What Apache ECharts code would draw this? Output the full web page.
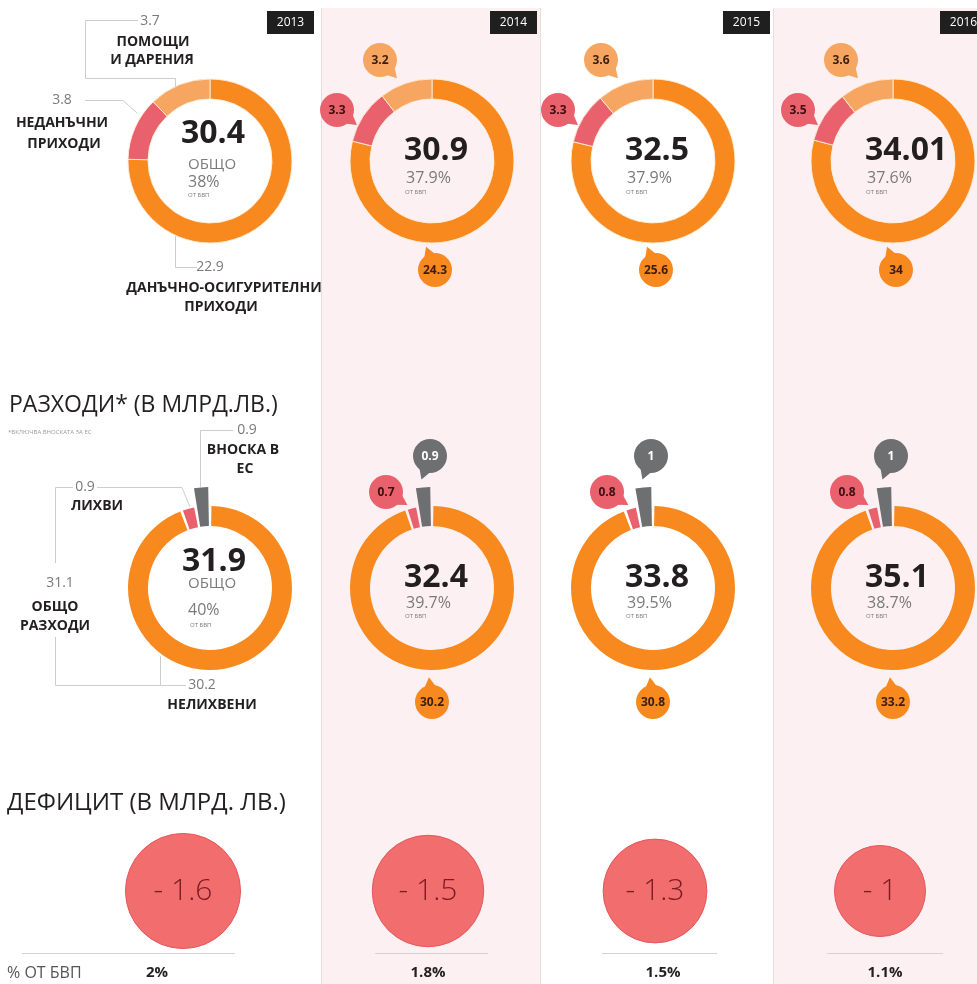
<!DOCTYPE html>
<html>
<head>
<meta charset="utf-8">
<script src="https://cdn.jsdelivr.net/npm/echarts@6/dist/echarts.min.js"></script>
<style>
  html, body { margin: 0; padding: 0; background: #fff; }
  #chart { width: 977px; height: 984px; }
</style>
</head>
<body>
<div id="chart"></div>
<script>
// данни (млрд. лв.)
const years = ['2013', '2014', '2015', '2016'];

// приходи
const revTotal = ['30.4', '30.9', '32.5', '34.01'];
const revGdp = ['38%', '37.9%', '37.9%', '37.6%'];
const revTax = ['22.9', '24.3', '25.6', '34'];      // надписите, както са отпечатани
const revTaxArc = [22.9, 24.3, 25.6, 26.9];         // дъгата за 2016 е ~26.9 (надписът "34" е печатна грешка)
const revNonTax = [3.8, 3.3, 3.3, 3.5];
const revAid = [3.7, 3.2, 3.6, 3.6];

// разходи
const expTotal = ['31.9', '32.4', '33.8', '35.1'];
const expGdp = ['40%', '39.7%', '39.5%', '38.7%'];
const expNonInt = [30.2, 30.2, 30.8, 33.2];
const expInterest = [0.9, 0.7, 0.8, 0.8];
const expEu = [0.9, 0.9, 1, 1];
const expAll = [31.1];  // общо разходи без вноската (2013)

// дефицит
const deficit = [1.6, 1.5, 1.3, 1];
const deficitGdp = ['2%', '1.8%', '1.5%', '1.1%'];

// оформление
const FONT = '"Open Sans", "Noto Sans", sans-serif';
const C = {
    orange: '#f7891f',
    light: '#f6a661',
    red: '#e9616c',
    grey: '#6e6f71',
    def: '#f26d6e',
    pink: '#fcf0f3',
    line: '#cdcdcd',
    ink: '#231f20',
    muted: '#7a7a7a'
};
const ringCx = [210, 432, 653, 893];
const revCy = 161;
const expCy = 588;
const defCx = [183, 428, 655, 880];
const defCy = 891;

function txt(x, y, text, font, fill, align) {
    align = align || 'center';
    return {
        type: 'text', x: x, y: y, z: 20,
        style: {
            text: text, font: font, fill: fill,
            align: align, verticalAlign: 'middle',
            textAlign: align, textVerticalAlign: 'middle'
        }
    };
}
function line(points, color) {
    return {
        type: 'polyline', z: 5,
        shape: { points: points },
        style: { stroke: color || C.line, lineWidth: 1, fill: null }
    };
}
// балонче с "опашка" към сегмента
function bubble(cx, cy, text, fill, textFill, tailDeg) {
    let r = 17;
    let a = tailDeg * Math.PI / 180;
    let s = 30 * Math.PI / 180;
    let tip = [cx + Math.cos(a) * (r + 8), cy + Math.sin(a) * (r + 8)];
    let p1 = [cx + Math.cos(a - s) * r * 0.85, cy + Math.sin(a - s) * r * 0.85];
    let p2 = [cx + Math.cos(a + s) * r * 0.85, cy + Math.sin(a + s) * r * 0.85];
    return [
        { type: 'polygon', z: 15, shape: { points: [p1, tip, p2] }, style: { fill: fill } },
        { type: 'circle', z: 15, shape: { cx: cx, cy: cy, r: r }, style: { fill: fill } },
        txt(cx, cy + 1, text, 'bold 12px ' + FONT, textFill)
    ];
}

let graphics = [];

// розови колони и разделители
graphics.push({ type: 'rect', z: 0, shape: { x: 321, y: 8, width: 219, height: 976 }, style: { fill: C.pink } });
graphics.push({ type: 'rect', z: 0, shape: { x: 773, y: 8, width: 204, height: 976 }, style: { fill: C.pink } });
[321.5, 540.5, 773.5].forEach(x => {
    graphics.push(line([[x, 8], [x, 984]], '#e6dde0'));
});

// години
const tagX = [267, 490, 723, 940];
years.forEach((y, i) => {
    graphics.push({ type: 'rect', z: 10, shape: { x: tagX[i], y: 11, width: 47, height: 23 }, style: { fill: '#1f1f1f' } });
    graphics.push(txt(tagX[i] + 23.5, 23, y, '12px ' + FONT, '#fff'));
});

let series = [];

// ---------- ПРИХОДИ ----------
years.forEach((y, i) => {
    series.push({
        type: 'pie',
        silent: true,
        center: [ringCx[i], revCy],
        radius: [62, 82],
        startAngle: 90,
        clockwise: true,
        label: { show: false },
        labelLine: { show: false },
        itemStyle: { borderColor: 'rgba(255,236,215,0.9)', borderWidth: 1 },
        data: [
            { name: 'данъчно-осигурителни', value: revTaxArc[i], itemStyle: { color: C.orange } },
            { name: 'неданъчни', value: revNonTax[i], itemStyle: { color: C.red } },
            { name: 'помощи', value: revAid[i], itemStyle: { color: C.light } }
        ]
    });
});

// 2013 - централен текст и надписи с линии
graphics.push(txt(181, 134, revTotal[0], 'bold 32px ' + FONT, C.ink, 'left'));
graphics.push(txt(188, 165, 'ОБЩО', '15px ' + FONT, C.muted, 'left'));
graphics.push(txt(188, 182, revGdp[0], '16px ' + FONT, C.muted, 'left'));
graphics.push(txt(188, 195, 'ОТ БВП', '6px ' + FONT, C.muted, 'left'));

graphics.push(line([[138, 20.5], [85.5, 20.5], [85.5, 78.5], [175.5, 78.5], [175.5, 88]]));
graphics.push(txt(150, 21, String(revAid[0]), '14px ' + FONT, C.muted));
graphics.push(txt(153, 42, 'ПОМОЩИ', 'bold 14px ' + FONT, C.ink));
graphics.push(txt(152, 60, 'И ДАРЕНИЯ', 'bold 14px ' + FONT, C.ink));

graphics.push(line([[85, 100.5], [123, 100.5], [137, 113]]));
graphics.push(txt(62, 100, String(revNonTax[0]), '14px ' + FONT, C.muted));
graphics.push(txt(62, 123, 'НЕДАНЪЧНИ', 'bold 14px ' + FONT, C.ink));
graphics.push(txt(64, 144, 'ПРИХОДИ', 'bold 14px ' + FONT, C.ink));

graphics.push(line([[175.5, 236], [175.5, 267.5], [197, 267.5]]));
graphics.push(txt(210, 267, revTax[0], '14px ' + FONT, C.muted));
graphics.push(txt(224, 288, 'ДАНЪЧНО-ОСИГУРИТЕЛНИ', 'bold 14px ' + FONT, C.ink));
graphics.push(txt(221, 307, 'ПРИХОДИ', 'bold 14px ' + FONT, C.ink));

// 2014-2016
for (let i = 1; i < 4; i++) {
    let cx = ringCx[i];
    graphics.push(txt(cx - 28, revCy - 10, revTotal[i], 'bold 32px ' + FONT, C.ink, 'left'));
    graphics.push(txt(cx - 26, revCy + 17, revGdp[i], '16px ' + FONT, C.muted, 'left'));
    graphics.push(txt(cx - 27, revCy + 31, 'ОТ БВП', '6px ' + FONT, C.muted, 'left'));
    graphics.push(...bubble(cx - 52, revCy - 101, String(revAid[i]), C.light, '#3b1d0e', 47));
    graphics.push(...bubble(cx - 95, revCy - 51, String(revNonTax[i]), C.red, '#3b1010', 37));
    graphics.push(...bubble(cx + 3, revCy + 109, revTax[i], C.orange, '#3b1d0e', -111));
}

// ---------- РАЗХОДИ ----------
graphics.push(txt(9, 405, 'РАЗХОДИ* (В МЛРД.ЛВ.)', '500 23px ' + FONT, C.ink, 'left'));
graphics.push(txt(8, 432, '*ВКЛЮЧВА ВНОСКАТА ЗА ЕС', '6px ' + FONT, '#9a9a9a', 'left'));

years.forEach((y, i) => {
    let common = {
        type: 'pie',
        silent: true,
        center: [ringCx[i], expCy],
        startAngle: 90,
        clockwise: true,
        padAngle: 2,
        label: { show: false },
        labelLine: { show: false }
    };
    // пръстенът
    series.push(Object.assign({}, common, {
        radius: [62, 82],
        data: [
            { name: 'нелихвени', value: expNonInt[i], itemStyle: { color: C.orange } },
            { name: 'лихви', value: expInterest[i], itemStyle: { color: C.red } },
            { name: 'вноска в ЕС', value: expEu[i], itemStyle: { color: 'transparent' } }
        ]
    }));
    // изтеглената вноска в ЕС
    series.push(Object.assign({}, common, {
        radius: [62, 101],
        data: [
            { name: 'нелихвени', value: expNonInt[i], itemStyle: { color: 'transparent' } },
            { name: 'лихви', value: expInterest[i], itemStyle: { color: 'transparent' } },
            { name: 'вноска в ЕС', value: expEu[i], itemStyle: { color: C.grey } }
        ]
    }));
});

// 2013
graphics.push(txt(182, 562, expTotal[0], 'bold 32px ' + FONT, C.ink, 'left'));
graphics.push(txt(188, 584, 'ОБЩО', '15px ' + FONT, C.muted, 'left'));
graphics.push(txt(188, 610, expGdp[0], '16px ' + FONT, C.muted, 'left'));
graphics.push(txt(190, 625, 'ОТ БВП', '6px ' + FONT, C.muted, 'left'));

graphics.push(line([[233, 430.5], [200.5, 430.5], [200.5, 487]]));
graphics.push(txt(247, 430, String(expEu[0]), '14px ' + FONT, C.muted));
graphics.push(txt(243, 450, 'ВНОСКА В', 'bold 14px ' + FONT, C.ink));
graphics.push(txt(245, 469, 'ЕС', 'bold 14px ' + FONT, C.ink));

graphics.push(line([[97, 487.5], [182, 487.5], [190, 507]]));
graphics.push(line([[73, 487.5], [55.5, 487.5], [55.5, 563]]));
graphics.push(txt(85, 487, String(expInterest[0]), '14px ' + FONT, C.muted));
graphics.push(txt(97, 506, 'ЛИХВИ', 'bold 14px ' + FONT, C.ink));

graphics.push(txt(60, 583, String(expAll[0]), '14px ' + FONT, C.muted));
graphics.push(txt(55, 607, 'ОБЩО', 'bold 14px ' + FONT, C.ink));
graphics.push(txt(55, 626, 'РАЗХОДИ', 'bold 14px ' + FONT, C.ink));

graphics.push(line([[55.5, 637], [55.5, 685.5], [186, 685.5]]));
graphics.push(line([[160.5, 656], [160.5, 685.5]]));
graphics.push(txt(202, 685, String(expNonInt[0]), '14px ' + FONT, C.muted));
graphics.push(txt(212, 705, 'НЕЛИХВЕНИ', 'bold 14px ' + FONT, C.ink));

for (let i = 1; i < 4; i++) {
    let cx = ringCx[i];
    graphics.push(txt(cx - 28, expCy - 10, expTotal[i], 'bold 32px ' + FONT, C.ink, 'left'));
    graphics.push(txt(cx - 26, expCy + 15, expGdp[i], '16px ' + FONT, C.muted, 'left'));
    graphics.push(txt(cx - 27, expCy + 28, 'ОТ БВП', '6px ' + FONT, C.muted, 'left'));
    graphics.push(...bubble(cx - 2, expCy - 132, String(expEu[i]), C.grey, '#fff', 110));
    graphics.push(...bubble(cx - 46, expCy - 96, String(expInterest[i]), C.red, '#3b1010', 31));
    graphics.push(...bubble(cx, expCy + 114, String(expNonInt[i]), C.orange, '#3b1d0e', -97));
}

// ---------- ДЕФИЦИТ ----------
graphics.push(txt(7, 803, 'ДЕФИЦИТ (В МЛРД. ЛВ.)', '500 24px ' + FONT, C.ink, 'left'));
graphics.push(txt(7, 973, '% ОТ БВП', '16px ' + FONT, '#555', 'left'));
const defLine = [[22, 235], [375, 488], [602, 717], [827, 943]];
const defPctX = [157, 428, 663, 885];
years.forEach((y, i) => {
    graphics.push(line([[defLine[i][0], 953.5], [defLine[i][1], 953.5]], '#d3d3d3'));
    graphics.push(txt(defPctX[i], 973, deficitGdp[i], 'bold 15px ' + FONT, C.ink));
    // площта на кръга е пропорционална на дефицита
    series.push({
        type: 'pie',
        silent: true,
        center: [defCx[i], defCy],
        radius: [0, 45.5 * Math.sqrt(deficit[i])],
        label: {
            show: true,
            position: 'center',
            formatter: '- ' + deficit[i],
            color: '#7a1c22',
            fontFamily: 'Open Sans',
            fontWeight: 300,
            fontSize: 30
        },
        labelLine: { show: false },
        itemStyle: { color: C.def, borderColor: '#e4585c', borderWidth: 1 },
        data: [{ name: y, value: deficit[i] }]
    });
});

let chart = echarts.init(document.getElementById('chart'));
chart.setOption({
    backgroundColor: '#fff',
    animation: false,
    graphic: { elements: graphics },
    series: series
});
</script>
</body>
</html>
